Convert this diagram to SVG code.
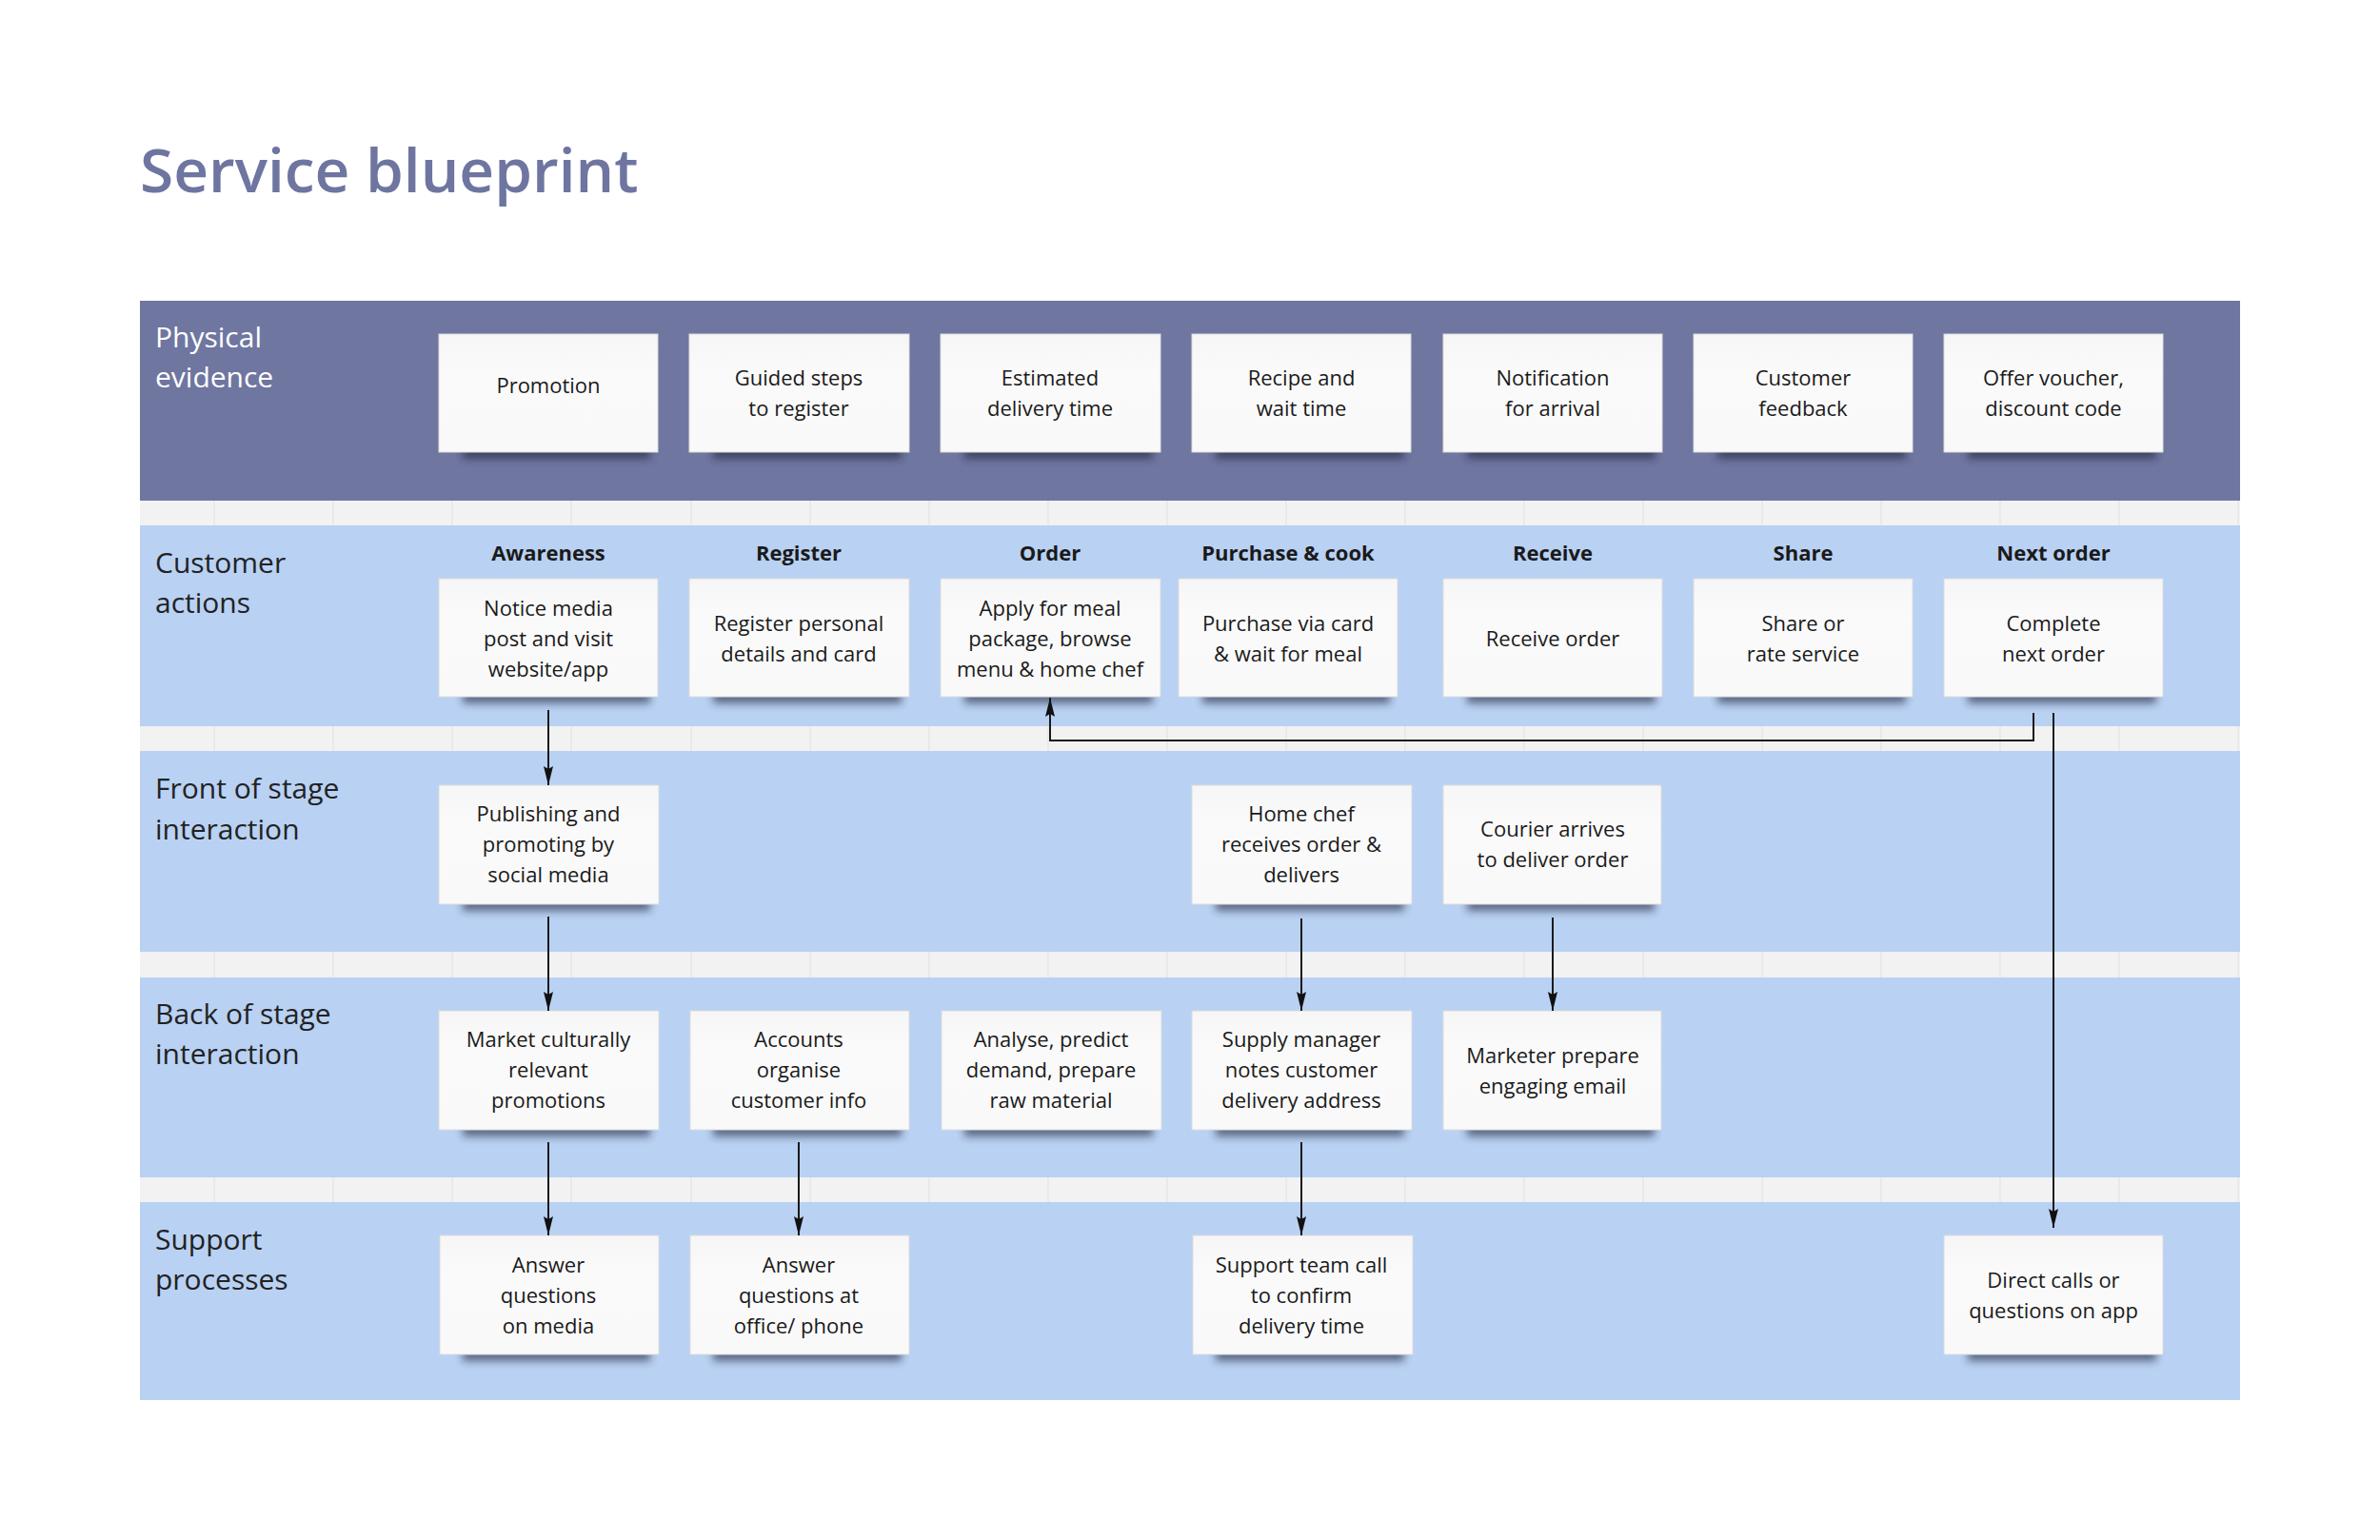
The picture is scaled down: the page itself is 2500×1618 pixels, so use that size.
<svg xmlns="http://www.w3.org/2000/svg" width="2500" height="1618" viewBox="0 0 2500 1618">
<defs>
<style>
.title{font-family:"Open Sans","Liberation Sans",sans-serif;font-size:64px;font-weight:600;fill:#6e75a0}
.lane{font-family:"Open Sans","Liberation Sans",sans-serif;font-size:30px;fill:#222}
.lane.w{fill:#ffffff}
.hdr{font-family:"Open Sans","Liberation Sans",sans-serif;font-size:22px;font-weight:700;fill:#1a1a1a;text-anchor:middle}
.t{font-family:"Open Sans","Liberation Sans",sans-serif;font-size:22px;fill:#1a1a1a;text-anchor:middle}
.box{fill:url(#paper);stroke:#dcdcdc;stroke-width:1}
.shd{fill:#1c2038;opacity:0.6;filter:url(#blur)}
.gap{fill:#f2f2f2}
.grid{stroke:#e6e6e6;stroke-width:1.5}
.con{fill:none;stroke:#1a1a1a;stroke-width:2}
</style>
<linearGradient id="paper" x1="0" y1="0" x2="0" y2="1">
<stop offset="0" stop-color="#f6f6f6"/>
<stop offset="0.3" stop-color="#fafafa"/>
<stop offset="1" stop-color="#f9f9f9"/>
</linearGradient>
<filter id="blur" x="-20%" y="-100%" width="140%" height="300%"><feGaussianBlur stdDeviation="4"/></filter>
<marker id="arr" markerUnits="userSpaceOnUse" markerWidth="20" markerHeight="10" refX="20" refY="5" orient="auto">
<path d="M0,0 L20,5 L0,10 L3,5 z" fill="#111"/>
</marker>
</defs>
<rect width="2500" height="1618" fill="#ffffff"/>
<text class="title" x="147" y="202">Service blueprint</text>

<g id="lanes">
<rect x="147" y="316" width="2206" height="210" fill="#6f76a0"/>
<rect class="gap" x="147" y="526" width="2206" height="26"/>
<rect x="147" y="552" width="2206" height="211" fill="#b9d1f3"/>
<rect class="gap" x="147" y="763" width="2206" height="26"/>
<rect x="147" y="789" width="2206" height="211" fill="#b9d1f3"/>
<rect class="gap" x="147" y="1000" width="2206" height="27"/>
<rect x="147" y="1027" width="2206" height="210" fill="#b9d1f3"/>
<rect class="gap" x="147" y="1237" width="2206" height="26"/>
<rect x="147" y="1263" width="2206" height="208" fill="#b9d1f3"/>
<g class="grid">
<path d="M225,526V552M350,526V552M475,526V552M600,526V552M726,526V552M851,526V552M976,526V552M1101,526V552M1226,526V552M1351,526V552M1476,526V552M1601,526V552M1726,526V552M1851,526V552M1976,526V552M2101,526V552M2226,526V552M2351,526V552"/>
<path d="M225,763V789M350,763V789M475,763V789M600,763V789M726,763V789M851,763V789M976,763V789M1101,763V789M1226,763V789M1351,763V789M1476,763V789M1601,763V789M1726,763V789M1851,763V789M1976,763V789M2101,763V789M2226,763V789M2351,763V789"/>
<path d="M225,1000V1027M350,1000V1027M475,1000V1027M600,1000V1027M726,1000V1027M851,1000V1027M976,1000V1027M1101,1000V1027M1226,1000V1027M1351,1000V1027M1476,1000V1027M1601,1000V1027M1726,1000V1027M1851,1000V1027M1976,1000V1027M2101,1000V1027M2226,1000V1027M2351,1000V1027"/>
<path d="M225,1237V1263M350,1237V1263M475,1237V1263M600,1237V1263M726,1237V1263M851,1237V1263M976,1237V1263M1101,1237V1263M1226,1237V1263M1351,1237V1263M1476,1237V1263M1601,1237V1263M1726,1237V1263M1851,1237V1263M1976,1237V1263M2101,1237V1263M2226,1237V1263M2351,1237V1263"/>
</g>
<text class="lane w" x="163" y="365">Physical</text>
<text class="lane w" x="163" y="407">evidence</text>
<text class="lane" x="163" y="602">Customer</text>
<text class="lane" x="163" y="644">actions</text>
<text class="lane" x="163" y="839">Front of stage</text>
<text class="lane" x="163" y="882">interaction</text>
<text class="lane" x="163" y="1076">Back of stage</text>
<text class="lane" x="163" y="1118">interaction</text>
<text class="lane" x="163" y="1313">Support</text>
<text class="lane" x="163" y="1355">processes</text>
</g>

<g id="headers">
<text class="hdr" x="576" y="589">Awareness</text>
<text class="hdr" x="839" y="589">Register</text>
<text class="hdr" x="1103" y="589">Order</text>
<text class="hdr" x="1353" y="589">Purchase &amp; cook</text>
<text class="hdr" x="1631" y="589">Receive</text>
<text class="hdr" x="1894" y="589">Share</text>
<text class="hdr" x="2157" y="589">Next order</text>
</g>

<!-- Physical evidence -->
<g id="pe-promotion"><rect class="shd" x="486" y="469" width="197" height="13"/><rect class="box" x="461" y="351" width="230" height="124"/><text class="t" x="576" y="413">Promotion</text></g>
<g id="pe-guided"><rect class="shd" x="749" y="469" width="198" height="13"/><rect class="box" x="724" y="351" width="231" height="124"/><text class="t" x="839"><tspan x="839" y="405">Guided steps</tspan><tspan x="839" y="437">to register</tspan></text></g>
<g id="pe-estimated"><rect class="shd" x="1013" y="469" width="198" height="13"/><rect class="box" x="988" y="351" width="231" height="124"/><text class="t"><tspan x="1103" y="405">Estimated</tspan><tspan x="1103" y="437">delivery time</tspan></text></g>
<g id="pe-recipe"><rect class="shd" x="1277" y="469" width="198" height="13"/><rect class="box" x="1252" y="351" width="230" height="124"/><text class="t"><tspan x="1367" y="405">Recipe and</tspan><tspan x="1367" y="437">wait time</tspan></text></g>
<g id="pe-notification"><rect class="shd" x="1541" y="469" width="198" height="13"/><rect class="box" x="1516" y="351" width="230" height="124"/><text class="t"><tspan x="1631" y="405">Notification</tspan><tspan x="1631" y="437">for arrival</tspan></text></g>
<g id="pe-feedback"><rect class="shd" x="1804" y="469" width="198" height="13"/><rect class="box" x="1779" y="351" width="230" height="124"/><text class="t"><tspan x="1894" y="405">Customer</tspan><tspan x="1894" y="437">feedback</tspan></text></g>
<g id="pe-voucher"><rect class="shd" x="2067" y="469" width="198" height="13"/><rect class="box" x="2042" y="351" width="230" height="124"/><text class="t"><tspan x="2157" y="405">Offer voucher,</tspan><tspan x="2157" y="437">discount code</tspan></text></g>

<!-- Customer actions -->
<g id="ca-notice"><rect class="shd" x="486" y="726" width="197" height="13"/><rect class="box" x="461" y="608" width="230" height="124"/><text class="t"><tspan x="576" y="647">Notice media</tspan><tspan x="576" y="679">post and visit</tspan><tspan x="576" y="711">website/app</tspan></text></g>
<g id="ca-register"><rect class="shd" x="749" y="726" width="198" height="13"/><rect class="box" x="724" y="608" width="231" height="124"/><text class="t"><tspan x="839" y="663">Register personal</tspan><tspan x="839" y="695">details and card</tspan></text></g>
<g id="ca-order"><rect class="shd" x="1013" y="726" width="198" height="13"/><rect class="box" x="988" y="608" width="231" height="124"/><text class="t"><tspan x="1103" y="647">Apply for meal</tspan><tspan x="1103" y="679">package, browse</tspan><tspan x="1103" y="711">menu &amp; home chef</tspan></text></g>
<g id="ca-purchase"><rect class="shd" x="1263" y="726" width="197" height="13"/><rect class="box" x="1238" y="608" width="230" height="124"/><text class="t"><tspan x="1353" y="663">Purchase via card</tspan><tspan x="1353" y="695">&amp; wait for meal</tspan></text></g>
<g id="ca-receive"><rect class="shd" x="1541" y="726" width="198" height="13"/><rect class="box" x="1516" y="608" width="230" height="124"/><text class="t" x="1631" y="679">Receive order</text></g>
<g id="ca-share"><rect class="shd" x="1804" y="726" width="198" height="13"/><rect class="box" x="1779" y="608" width="230" height="124"/><text class="t"><tspan x="1894" y="663">Share or</tspan><tspan x="1894" y="695">rate service</tspan></text></g>
<g id="ca-next"><rect class="shd" x="2067" y="726" width="198" height="13"/><rect class="box" x="2042" y="608" width="230" height="124"/><text class="t"><tspan x="2157" y="663">Complete</tspan><tspan x="2157" y="695">next order</tspan></text></g>

<!-- Front of stage -->
<g id="fs-publishing"><rect class="shd" x="486" y="944" width="197" height="13"/><rect class="box" x="461" y="825" width="231" height="125"/><text class="t"><tspan x="576" y="863">Publishing and</tspan><tspan x="576" y="895">promoting by</tspan><tspan x="576" y="927">social media</tspan></text></g>
<g id="fs-homechef"><rect class="shd" x="1277" y="944" width="198" height="13"/><rect class="box" x="1252" y="825" width="231" height="125"/><text class="t"><tspan x="1367" y="863">Home chef</tspan><tspan x="1367" y="895">receives order &amp;</tspan><tspan x="1367" y="927">delivers</tspan></text></g>
<g id="fs-courier"><rect class="shd" x="1541" y="944" width="197" height="13"/><rect class="box" x="1516" y="825" width="229" height="125"/><text class="t"><tspan x="1631" y="879">Courier arrives</tspan><tspan x="1631" y="911">to deliver order</tspan></text></g>

<!-- Back of stage -->
<g id="bs-market"><rect class="shd" x="486" y="1181" width="197" height="13"/><rect class="box" x="461" y="1062" width="231" height="125"/><text class="t"><tspan x="576" y="1100">Market culturally</tspan><tspan x="576" y="1132">relevant</tspan><tspan x="576" y="1164">promotions</tspan></text></g>
<g id="bs-accounts"><rect class="shd" x="749" y="1181" width="198" height="13"/><rect class="box" x="725" y="1062" width="230" height="125"/><text class="t"><tspan x="839" y="1100">Accounts</tspan><tspan x="839" y="1132">organise</tspan><tspan x="839" y="1164">customer info</tspan></text></g>
<g id="bs-analyse"><rect class="shd" x="1013" y="1181" width="198" height="13"/><rect class="box" x="989" y="1062" width="231" height="125"/><text class="t"><tspan x="1104" y="1100">Analyse, predict</tspan><tspan x="1104" y="1132">demand, prepare</tspan><tspan x="1104" y="1164">raw material</tspan></text></g>
<g id="bs-supply"><rect class="shd" x="1277" y="1181" width="198" height="13"/><rect class="box" x="1252" y="1062" width="231" height="125"/><text class="t"><tspan x="1367" y="1100">Supply manager</tspan><tspan x="1367" y="1132">notes customer</tspan><tspan x="1367" y="1164">delivery address</tspan></text></g>
<g id="bs-marketer"><rect class="shd" x="1541" y="1181" width="197" height="13"/><rect class="box" x="1516" y="1062" width="229" height="125"/><text class="t"><tspan x="1631" y="1117">Marketer prepare</tspan><tspan x="1631" y="1149">engaging email</tspan></text></g>

<!-- Support processes -->
<g id="sp-media"><rect class="shd" x="486" y="1417" width="197" height="13"/><rect class="box" x="462" y="1298" width="230" height="125"/><text class="t"><tspan x="576" y="1337">Answer</tspan><tspan x="576" y="1369">questions</tspan><tspan x="576" y="1401">on media</tspan></text></g>
<g id="sp-office"><rect class="shd" x="749" y="1417" width="198" height="13"/><rect class="box" x="725" y="1298" width="230" height="125"/><text class="t"><tspan x="839" y="1337">Answer</tspan><tspan x="839" y="1369">questions at</tspan><tspan x="839" y="1401">office/ phone</tspan></text></g>
<g id="sp-support"><rect class="shd" x="1277" y="1417" width="198" height="13"/><rect class="box" x="1253" y="1298" width="231" height="125"/><text class="t"><tspan x="1367" y="1337">Support team call</tspan><tspan x="1367" y="1369">to confirm</tspan><tspan x="1367" y="1401">delivery time</tspan></text></g>
<g id="sp-direct"><rect class="shd" x="2067" y="1417" width="198" height="13"/><rect class="box" x="2042" y="1298" width="230" height="125"/><text class="t"><tspan x="2157" y="1353">Direct calls or</tspan><tspan x="2157" y="1385">questions on app</tspan></text></g>

<g id="connectors">
<path class="con" d="M576,746 V825" marker-end="url(#arr)"/>
<path class="con" d="M576,963 V1062" marker-end="url(#arr)"/>
<path class="con" d="M576,1200 V1298" marker-end="url(#arr)"/>
<path class="con" d="M839,1200 V1298" marker-end="url(#arr)"/>
<path class="con" d="M1367,965 V1062" marker-end="url(#arr)"/>
<path class="con" d="M1631,964 V1062" marker-end="url(#arr)"/>
<path class="con" d="M1367,1200 V1298" marker-end="url(#arr)"/>
<path class="con" d="M2157,749 V1290" marker-end="url(#arr)"/>
<path class="con" d="M2136,749 V778 H1103 V733" marker-end="url(#arr)"/>
</g>
</svg>
